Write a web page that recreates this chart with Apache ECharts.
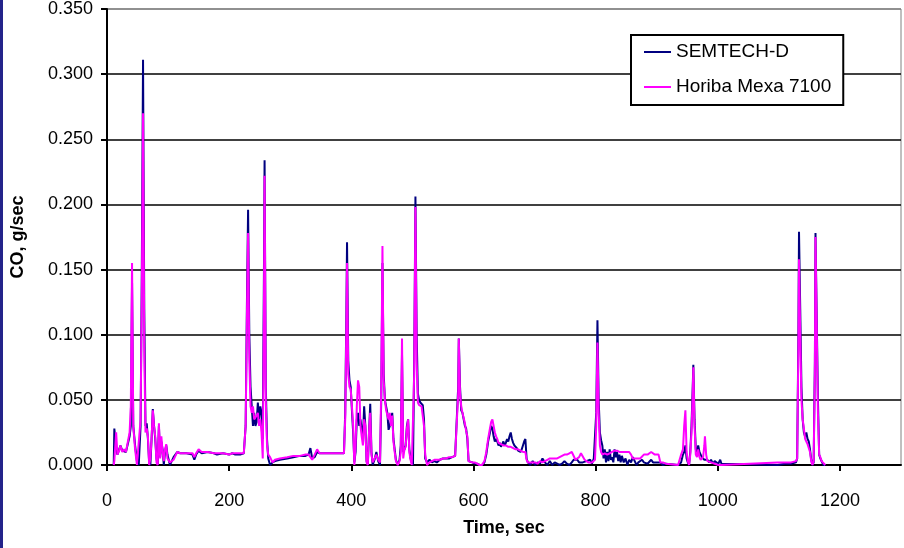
<!DOCTYPE html>
<html>
<head>
<meta charset="utf-8">
<script src="https://cdn.jsdelivr.net/npm/echarts@6/dist/echarts.min.js"></script>
<style>
html,body{margin:0;padding:0;background:#fff;}
#chart{width:904px;height:548px;}
</style>
</head>
<body>
<div id="chart"></div>
<script>
const seriesNames = ['SEMTECH-D', 'Horiba Mexa 7100'];
const xTicks = [0, 200, 400, 600, 800, 1000, 1200];
const yTicks = [0, 0.05, 0.10, 0.15, 0.20, 0.25, 0.30, 0.35];

const timeSec = [
  11,12,15,17,20,22,25,28,31,34,
  37,39,41,43,46,49,52,55,57,59,
  61,63,65,67,69,71,73,75,77,79,
  81,83,85,87,89,91,93,95,97,99,
  101,103,106,109,112,115,120,130,140,143,
  146,150,155,165,175,180,190,200,205,210,
  218,224,227,229,231,233,235,237,239,241,
  243,245,247,249,251,253,255,257,258,260,
  262,264,267,271,275,283,295,305,316,325,
  330,333,336,340,344,348,360,375,388,390,
  392,393,395,397,399,401,403,405,407,409,
  411,413,415,417,419,421,423,425,427,429,
  431,433,435,438,441,444,447,449,451,453,
  455,457,459,461,463,465,467,469,471,473,
  476,479,481,483,485,487,489,491,493,495,
  497,499,501,503,505,507,509,511,513,515,
  517,519,521,524,528,532,536,540,545,550,
  555,560,565,570,573,575,576,578,580,582,
  584,586,588,590,592,594,598,602,606,610,
  614,618,621,624,627,629,631,633,635,637,
  639,641,643,645,647,649,651,653,655,657,
  659,661,663,665,667,669,671,673,675,677,
  679,681,683,685,687,689,693,697,701,705,
  709,713,717,721,725,729,733,737,741,745,
  749,753,757,761,764,767,770,773,776,779,
  782,785,788,791,794,797,799,801,803,805,
  807,809,811,813,815,817,819,821,823,825,
  827,829,831,833,835,837,839,841,843,846,
  849,852,855,858,861,864,867,870,873,876,
  879,882,885,888,891,894,897,900,903,906,
  910,915,918,935,940,943,945,947,949,951,
  953,955,957,959,960,962,964,966,968,970,
  972,974,976,978,979,981,983,986,989,992,
  995,998,1001,1004,1006,1008,1098,1110,1120,1128,
  1130,1132,1133,1135,1137,1139,1141,1143,1145,1147,
  1149,1151,1153,1155,1157,1159,1160,1162,1164,1166,
  1168,1170,1173,1176
];

const semtechD = [
  0,.028,.012,.008,.012,.015,.011,.012,.010,.009,
  .022,.030,.140,.030,.015,.003,0,.030,.150,.311,
  .120,.030,.032,.020,.002,0,.020,.043,.030,.020,
  .005,0,.030,.006,.018,.012,0,.010,.015,.008,
  .004,0,.003,.006,.008,.010,.009,.009,.008,.004,
  .008,.011,.009,.010,.009,.008,.009,.008,.009,.008,
  .008,.009,.030,.120,.196,.100,.060,.045,.030,.040,
  .030,.033,.048,.035,.045,.040,.020,.150,.234,.060,
  .020,.005,0,.002,.003,.004,.005,.006,.007,.007,
  .008,.013,.005,.006,.010,.009,.009,.009,.009,.040,
  .120,.171,.080,.065,.060,.042,.025,.002,.010,.035,
  .040,.030,.035,.028,.020,.045,.030,.003,0,.025,
  .047,.010,0,.004,.010,.003,0,.050,.155,.070,
  .050,.045,.040,.027,.030,.035,.040,.020,.012,.004,
  0,.004,.015,.085,.010,.012,.015,.030,.035,.012,
  .005,.002,0,.080,.206,.100,.055,.050,.048,.047,
  .046,.035,.005,.002,.004,.002,.003,.002,.004,.005,
  .005,.005,.006,.007,.008,.060,.097,.060,.042,.040,
  .035,.030,.028,.020,.003,.003,.002,.001,.001,0,
  0,.002,.008,.018,.025,.030,.028,.022,.018,.020,
  .018,.015,.017,.014,.016,.018,.015,.017,.020,.018,
  .022,.025,.020,.017,.015,.014,.013,.011,.012,.010,
  .012,.015,.018,.020,.005,.002,0,.003,0,.002,
  .001,.005,.002,0,.003,0,.002,.001,0,.001,
  .003,.001,0,.002,.004,.003,.004,.002,.003,.002,
  .001,.003,.002,.004,.001,.005,.005,.040,.111,.050,
  .025,.019,.015,.005,.012,.002,.010,.003,.012,.004,
  .006,.002,.012,.006,.010,.003,.008,.002,.007,.002,
  .005,0,.004,.002,.006,.003,0,.002,.001,.004,
  .002,.003,.001,.002,.004,.002,.001,.002,.001,.002,
  0,.001,0,0,.002,.008,.010,.015,.005,.002,
  0,.010,.030,.060,.077,.035,.012,.010,.015,.010,
  .008,.006,.007,.004,.003,.005,.004,.002,.004,.001,
  .003,.002,.001,.004,.001,0,0,.001,.001,.002,
  .005,.100,.179,.120,.060,.035,.025,.022,.025,.020,
  .018,.012,.004,0,.002,.080,.178,.177,.050,.008,
  .005,.004,0,0
];

const horibaMexa = [
  0,.003,.025,.008,.011,.015,.010,.012,.010,.009,
  .025,.045,.155,.030,.012,0,0,.035,.130,.270,
  .090,.025,.028,.022,0,.005,.020,.042,.030,.022,
  .002,0,.032,.005,.022,.010,.003,.012,.016,.005,
  .006,.002,.002,.004,.007,.010,.009,.009,.009,.006,
  .009,.012,.010,.010,.009,.009,.009,.008,.009,.009,
  .009,.009,.030,.110,.178,.080,.045,.040,.045,.035,
  .035,.038,.040,.030,.035,.025,.005,.120,.222,.050,
  .015,.008,.006,.002,.004,.005,.006,.007,.007,.008,
  .008,.006,.004,.008,.012,.009,.009,.009,.009,.035,
  .110,.155,.070,.060,.058,.045,.030,0,.015,.045,
  .065,.060,.030,.022,.015,.035,.030,.002,0,.025,
  .040,.008,.002,.003,.008,.004,.002,.060,.168,.065,
  .050,.042,.041,.035,.040,.030,.038,.018,.010,.003,
  0,.003,.010,.097,.005,.012,.014,.028,.035,.010,
  .004,0,0,.070,.198,.080,.048,.046,.045,.045,
  .044,.030,.008,0,.002,.003,.004,.004,.004,.005,
  .005,.006,.006,.007,.007,.055,.097,.055,.045,.040,
  .036,.032,.026,.022,.003,.003,.002,.002,.001,0,
  0,.003,.010,.020,.028,.033,.035,.030,.025,.022,
  .020,.017,.016,.016,.015,.015,.016,.015,.015,.014,
  .014,.014,.013,.013,.013,.012,.012,.012,.011,.011,
  .011,.010,.010,.010,.004,.002,.002,.002,.002,.001,
  .003,.002,.003,.004,.005,.005,.005,.005,.006,.007,
  .008,.008,.009,.010,.011,.004,.003,.006,.009,.009,
  .004,.003,.002,.003,.002,.002,.004,.030,.094,.040,
  .015,.010,.008,.009,.009,.009,.008,.009,.009,.010,
  .010,.011,.011,.011,.011,.011,.010,.011,.010,.011,
  .010,.011,.010,.008,.005,.004,.005,.006,.005,.004,
  .008,.009,.008,.009,.010,.009,.008,.009,.008,.002,
  .002,.001,0,0,.008,.012,.030,.042,.010,.003,
  0,.008,.025,.055,.075,.030,.008,.006,.012,.006,
  .004,.003,.006,.015,.022,.008,.003,.004,.002,.003,
  .001,.002,0,0,0,0,.002,.002,.002,.003,
  .005,.090,.158,.100,.050,.035,.028,.020,.018,.016,
  .015,.010,.003,0,.003,.070,.175,.175,.040,.008,
  .006,.003,.002,0
];

if (timeSec.length !== semtechD.length || timeSec.length !== horibaMexa.length) {
  console.error('length mismatch', timeSec.length, semtechD.length, horibaMexa.length);
}

const semPairs = timeSec.map((t, i) => [t, semtechD[i]]);
const horPairs = timeSec.map((t, i) => [t, horibaMexa[i]]);

const FONT = "'Liberation Sans', Arial, sans-serif";
const gridColors = yTicks.map((v, i) => i === yTicks.length - 1 ? '#808080' : '#000000');

const chart = echarts.init(document.getElementById('chart'), null, {renderer: 'canvas'});
chart.setOption({
  animation: false,
  backgroundColor: '#ffffff',
  graphic: [{
    type: 'rect', left: 0, top: 0, shape: {x: 0, y: 0, width: 3, height: 548},
    style: {fill: '#23238a'}, silent: true
  }],
  grid: {
    left: 107, top: 9, right: 3, bottom: 83,
    show: true, borderColor: '#808080', borderWidth: 1, backgroundColor: '#ffffff'
  },
  legend: {
    orient: 'vertical',
    left: 631, top: 35,
    padding: [7, 12, 8, 13],
    backgroundColor: '#ffffff',
    borderColor: '#000000', borderWidth: 2, borderRadius: 0,
    itemGap: 15,
    itemWidth: 27, itemHeight: 2,
    icon: 'rect',
    data: seriesNames,
    textStyle: {fontFamily: FONT, fontSize: 19, color: '#000', lineHeight: 20}
  },
  xAxis: {
    type: 'value', min: 0, max: 1300, interval: 200,
    name: 'Time, sec', nameLocation: 'middle', nameGap: 63,
    nameTextStyle: {fontFamily: FONT, fontSize: 18, fontWeight: 'bold', color: '#000', verticalAlign: 'middle'},
    axisLine: {show: true, onZero: false, lineStyle: {color: '#000', width: 2}},
    axisTick: {show: true, inside: false, length: 6, lineStyle: {color: '#000', width: 2}},
    axisLabel: {
      fontFamily: FONT, fontSize: 18, color: '#000', margin: 27,
      showMaxLabel: false,
      formatter: v => xTicks.indexOf(v) >= 0 ? String(v) : ''
    },
    splitLine: {show: false}
  },
  yAxis: {
    type: 'value', min: 0, max: 0.35, interval: 0.05,
    name: 'CO, g/sec', nameLocation: 'middle', nameGap: 80,
    nameTextStyle: {fontFamily: FONT, fontSize: 18, fontWeight: 'bold', color: '#000'},
    axisLine: {show: true, lineStyle: {color: '#000', width: 2}},
    axisTick: {show: true, inside: false, length: 6, lineStyle: {color: '#000', width: 2}},
    axisLabel: {
      fontFamily: FONT, fontSize: 18, color: '#000', margin: 14,
      formatter: v => v.toFixed(3)
    },
    splitLine: {show: true, lineStyle: {color: gridColors, width: 1.5}}
  },
  series: [
    {
      name: seriesNames[0], type: 'line', data: semPairs,
      showSymbol: false, symbol: 'none',
      lineStyle: {color: '#000080', width: 2}, itemStyle: {color: '#000080'},
      z: 2
    },
    {
      name: seriesNames[1], type: 'line', data: horPairs,
      showSymbol: false, symbol: 'none',
      lineStyle: {color: '#ff00ff', width: 2}, itemStyle: {color: '#ff00ff'},
      z: 3
    }
  ]
});
</script>
</body>
</html>
